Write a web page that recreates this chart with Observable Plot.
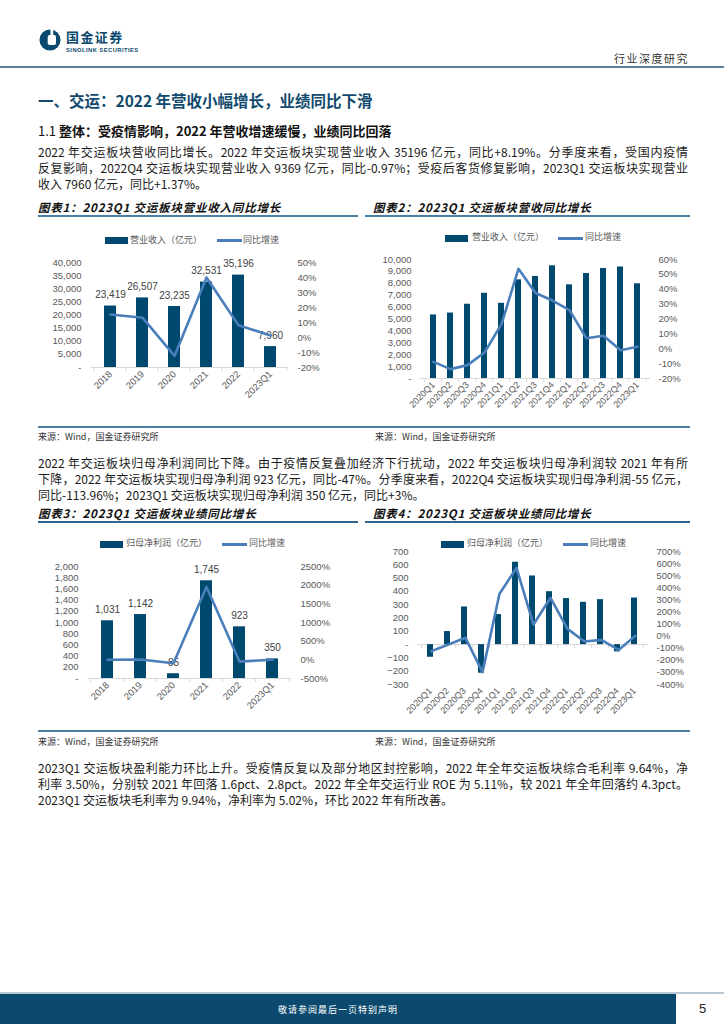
<!DOCTYPE html>
<html><head><meta charset="utf-8">
<script src="https://cdn.jsdelivr.net/npm/d3@7"></script>
<script src="https://cdn.jsdelivr.net/npm/@observablehq/plot@0.6"></script>
<style>
body{margin:0;width:724px;height:1024px;position:relative;background:#fff;font-family:"Noto Sans CJK SC",sans-serif;overflow:hidden;color:#1a1a1a}
.a{position:absolute;white-space:nowrap}
.p{position:absolute;left:38px;width:650px;font-size:12px;line-height:16px}
.p div{text-align:justify;text-align-last:justify;height:16px;overflow:visible}
.p div.last{text-align-last:left}
.ct{position:absolute;font-size:11.5px;font-weight:bold;font-style:italic;letter-spacing:0.8px;color:#111}
.rule{position:absolute;height:2px;background:#4a7ea5}
.src{position:absolute;font-size:9px;color:#333}
.leg{position:absolute;font-size:9px;color:#595959;line-height:10px}
.sw{position:absolute}
</style></head><body>
<!-- header -->
<svg class="a" style="left:39px;top:29px" width="22" height="22" viewBox="0 0 24 24">
  <circle cx="12" cy="12" r="11.5" fill="#0b4a6e"/>
  <rect x="9.5" y="6.5" width="9" height="11" rx="2" fill="#fff"/>
  <rect x="12.5" y="0" width="3" height="6.5" fill="#fff"/>
</svg>
<div class="a" style="left:66px;top:30px;font-size:13px;line-height:13px;font-weight:bold;color:#0b4a6e;letter-spacing:1.4px">国金证券</div>
<div class="a" style="left:66px;top:46.5px;font-size:5.8px;line-height:6px;font-weight:bold;color:#0b4a6e;letter-spacing:0.45px;font-family:'Liberation Sans',Arial">SINOLINK SECURITIES</div>
<div class="a" style="left:614px;top:50px;font-size:11px;color:#333;letter-spacing:1.5px">行业深度研究</div>
<div class="a" style="left:0;top:66px;width:724px;height:2px;background:#5b7f98"></div>

<div class="a" style="left:38px;top:89px;font-size:15.5px;font-weight:bold;color:#124a6e">一、交运：2022 年营收小幅增长，业绩同比下滑</div>
<div class="a" style="left:38px;top:121px;font-size:13px;color:#111">1.1 <b>整体：受疫情影响，2022 年营收增速缓慢，业绩同比回落</b></div>

<div class="p" style="top:144px">
<div>2022 年交运板块营收同比增长。2022 年交运板块实现营业收入 35196 亿元，同比+8.19%。分季度来看，受国内疫情</div>
<div>反复影响，2022Q4 交运板块实现营业收入 9369 亿元，同比-0.97%；受疫后客货修复影响，2023Q1 交运板块实现营业</div>
<div class="last">收入 7960 亿元，同比+1.37%。</div>
</div>

<div class="ct" style="left:38px;top:199px">图表1：2023Q1 交运板块营业收入同比增长</div>
<div class="ct" style="left:373px;top:199px">图表2：2023Q1 交运板块营收同比增长</div>
<div class="rule" style="left:38px;top:215px;width:320px"></div>
<div class="rule" style="left:365px;top:215px;width:325px"></div>

<div id="c1" class="a" style="left:20px;top:225px"></div>
<div id="c2" class="a" style="left:365px;top:225px"></div>

<div class="rule" style="left:38px;top:426px;width:652px"></div>
<div class="src" style="left:38px;top:430px">来源：Wind，国金证券研究所</div>
<div class="src" style="left:375px;top:430px">来源：Wind，国金证券研究所</div>

<div class="p" style="top:455px">
<div>2022 年交运板块归母净利润同比下降。由于疫情反复叠加经济下行扰动，2022 年交运板块归母净利润较 2021 年有所</div>
<div>下降，2022 年交运板块实现归母净利润 923 亿元，同比-47%。分季度来看，2022Q4 交运板块实现归母净利润-55 亿元，</div>
<div class="last">同比-113.96%；2023Q1 交运板块实现归母净利润 350 亿元，同比+3%。</div>
</div>

<div class="ct" style="left:38px;top:505px">图表3：2023Q1 交运板块业绩同比增长</div>
<div class="ct" style="left:373px;top:505px">图表4：2023Q1 交运板块业绩同比增长</div>
<div class="rule" style="left:38px;top:521px;width:320px;background:#2f6690"></div>
<div class="rule" style="left:365px;top:521px;width:325px;background:#2f6690"></div>

<div id="c3" class="a" style="left:20px;top:530px"></div>
<div id="c4" class="a" style="left:365px;top:530px"></div>

<div class="rule" style="left:38px;top:730px;width:652px"></div>
<div class="src" style="left:38px;top:735px">来源：Wind，国金证券研究所</div>
<div class="src" style="left:375px;top:735px">来源：Wind，国金证券研究所</div>

<div class="p" style="top:760px">
<div>2023Q1 交运板块盈利能力环比上升。受疫情反复以及部分地区封控影响，2022 年全年交运板块综合毛利率 9.64%，净</div>
<div>利率 3.50%，分别较 2021 年回落 1.6pct、2.8pct。2022 年全年交运行业 ROE 为 5.11%，较 2021 年全年回落约 4.3pct。</div>
<div class="last">2023Q1 交运板块毛利率为 9.94%，净利率为 5.02%，环比 2022 年有所改善。</div>
</div>

<!-- footer -->
<div class="a" style="left:0;top:992px;width:724px;height:2px;background:#b7c8d4"></div>
<div class="a" style="left:0;top:994px;width:676px;height:30px;background:#0b4a6e"></div>
<div class="a" style="left:0;top:1003px;width:676px;text-align:center;font-size:9px;color:#fff;letter-spacing:1px">敬请参阅最后一页特别声明</div>
<div class="a" style="left:699px;top:1001px;font-size:13px;color:#222;font-family:'Liberation Sans',Arial">5</div>

<script>
// ---------- data ----------
const years = ["2018","2019","2020","2021","2022","2023Q1"];
const quarters = ["2020Q1","2020Q2","2020Q3","2020Q4","2021Q1","2021Q2","2021Q3","2021Q4","2022Q1","2022Q2","2022Q3","2022Q4","2023Q1"];

const revAnnual    = [23419, 26507, 23235, 32531, 35196, 7960];
const revAnnualYoY = [15.3, 13.2, -12.3, 40.0, 8.19, 1.37];

const revQuarter    = [5340, 5500, 6240, 7160, 6320, 8290, 8570, 9470, 7870, 8820, 9240, 9369, 7960];
const revQuarterYoY = [-8.8, -13.7, -11.0, -2.5, 16.6, 53.7, 37.5, 32.4, 26.0, 7.0, 8.8, -0.97, 1.37];

const npAnnual    = [1031, 1142, 85, 1745, 923, 350];
const npAnnualYoY = [4, 10.8, -92.6, 1953, -47, 3];

const npQuarter    = [-95, 98, 283, -215, 226, 619, 516, 398, 346, 318, 338, -55, 350];
const npQuarterYoY = [-124, -69, -14, -298, 350, 565, 96, 317, 60, -44, -31, -113.96, 3];

const ticksRevAnnual  = [0,5000,10000,15000,20000,25000,30000,35000,40000];
const ticksRevAnnualP = [-20,-10,0,10,20,30,40,50];
const ticksRevQ       = [0,1000,2000,3000,4000,5000,6000,7000,8000,9000,10000];
const ticksRevQP      = [-20,-10,0,10,20,30,40,50,60];
const ticksNpAnnual   = [0,200,400,600,800,1000,1200,1400,1600,1800,2000];
const ticksNpAnnualP  = [-500,0,500,1000,1500,2000,2500];
const ticksNpQ        = [-300,-200,-100,0,100,200,300,400,500,600,700];
const ticksNpQP       = [-400,-300,-200,-100,0,100,200,300,400,500,600,700];

const barLegend = ["营业收入（亿元）","营业收入（亿元）","归母净利润（亿元）","归母净利润（亿元）"];
const lineLegend = "同比增速";

const BAR = "#00496e", LINE = "#4a7ebb", GRID = "#d9d9d9", TXT = "#595959";
const fmtNum = d => d === 0 ? "-" : d3.format(",")(d);

function chart(id, cfg) {
  const {cats, bars, line, w, h, mL, mR, mT, mB, yDom, yTicks, y2Dom, y2Ticks,
         barFrac, labels, padL, padR, xfs, legend, xdx} = cfg;
  const data = cats.map((c, i) => ({c, v: bars[i], r: line[i]}));
  const p = 1 - barFrac;
  const step = (w - mL - mR) / cats.length;
  const font = {fontFamily: "'Liberation Sans', Arial, sans-serif", fontSize: "9.5px", color: TXT, background: "transparent", overflow: "visible"};
  const base = Plot.plot({
    width: w, height: h, marginLeft: mL, marginRight: mR, marginTop: mT, marginBottom: mB,
    style: font,
    x: {domain: cats, type: "band", paddingInner: p, paddingOuter: p / 2, label: null},
    y: {domain: yDom, label: null},
    marks: [
      Plot.axisY({ticks: yTicks, tickSize: 0, tickPadding: padL, tickFormat: fmtNum, fill: TXT}),
      Plot.axisX({tickSize: 0, tickRotate: -45, tickPadding: 5, fontSize: xfs, fill: TXT, dx: xdx || 0}),
      Plot.ruleY([0], {stroke: GRID, strokeWidth: 1}),
      Plot.ruleX(cats, {x: d => d, dx: -step / 2, y1: 0, y2: 0, insetBottom: -4, stroke: GRID}),
      Plot.ruleX(cats.slice(-1), {x: d => d, dx: step / 2, y1: 0, y2: 0, insetBottom: -4, stroke: GRID}),
      Plot.barY(data, {x: "c", y: "v", fill: BAR}),
      labels ? Plot.text(data, {x: "c", y: d => Math.max(d.v, 0), text: d => d3.format(",")(d.v), dy: -11, fontSize: 10, fill: "#404040"}) : null
    ]
  });
  const over = Plot.plot({
    width: w, height: h, marginLeft: mL, marginRight: mR, marginTop: mT, marginBottom: mB,
    style: font,
    x: {domain: cats, type: "point", padding: 0.5, axis: null},
    y: {domain: y2Dom, label: null},
    marks: [
      Plot.axisY({anchor: "right", ticks: y2Ticks, tickSize: 0, tickPadding: padR, tickFormat: d => d + "%", fill: TXT}),
      Plot.lineY(data, {x: "c", y: "r", stroke: LINE, strokeWidth: 2.6, strokeLinejoin: "round", strokeLinecap: "round"})
    ]
  });
  const el = document.getElementById(id);
  el.style.width = w + "px"; el.style.height = h + "px";
  base.style.position = "absolute"; base.style.left = "0"; base.style.top = "0";
  over.style.position = "absolute"; over.style.left = "0"; over.style.top = "0";
  el.appendChild(base); el.appendChild(over);
  // legend (HTML, above plot)
  const [sx, tx, lx, ltx, ly] = legend;
  const mk = (html) => { const d = document.createElement("div"); d.innerHTML = html; return d.firstChild; };
  el.appendChild(mk(`<div class="sw" style="left:${sx}px;top:${ly - 3.5}px;width:23px;height:7px;background:${BAR}"></div>`));
  el.appendChild(mk(`<div class="leg" style="left:${tx}px;top:${ly - 6}px">${cfg.legText}</div>`));
  el.appendChild(mk(`<div class="sw" style="left:${lx}px;top:${ly - 1.5}px;width:25px;height:3px;background:${LINE}"></div>`));
  el.appendChild(mk(`<div class="leg" style="left:${ltx}px;top:${ly - 6}px">${lineLegend}</div>`));
}

chart("c1", {cats: years, bars: revAnnual, line: revAnnualYoY, w: 330, h: 180,
  mL: 71, mR: 62, mT: 37, mB: 38, yDom: [0, 40000], yTicks: ticksRevAnnual,
  y2Dom: [-20, 50], y2Ticks: ticksRevAnnualP, barFrac: 0.36, labels: true, padL: 10, padR: 9, xfs: 9.5,
  legend: [85, 110, 197, 223, 15.7], legText: barLegend[0]});

chart("c2", {cats: quarters, bars: revQuarter, line: revQuarterYoY, w: 340, h: 190,
  mL: 55, mR: 55, mT: 34, mB: 37, yDom: [0, 10000], yTicks: ticksRevQ,
  y2Dom: [-20, 60], y2Ticks: ticksRevQP, barFrac: 0.36, labels: false, padL: 9, padR: 8, xfs: 9,
  legend: [80, 107, 193, 220, 13], legText: barLegend[1]});

chart("c3", {cats: years, bars: npAnnual, line: npAnnualYoY, w: 330, h: 190,
  mL: 68, mR: 59, mT: 36, mB: 42, yDom: [0, 2000], yTicks: ticksNpAnnual,
  y2Dom: [-500, 2500], y2Ticks: ticksNpAnnualP, barFrac: 0.35, labels: true, padL: 10, padR: 9, xfs: 9.5,
  legend: [80, 106, 202, 229, 14], legText: barLegend[2]});

chart("c4", {cats: quarters, bars: npQuarter, line: npQuarterYoY, w: 340, h: 190,
  mL: 52, mR: 57, mT: 21, mB: 36, yDom: [-300, 700], yTicks: ticksNpQ,
  y2Dom: [-400, 700], y2Ticks: ticksNpQP, barFrac: 0.36, labels: false, padL: 9, padR: 8, xfs: 9,
  legend: [76, 102, 198, 225, 14], legText: barLegend[3]});
</script>
</body></html>
